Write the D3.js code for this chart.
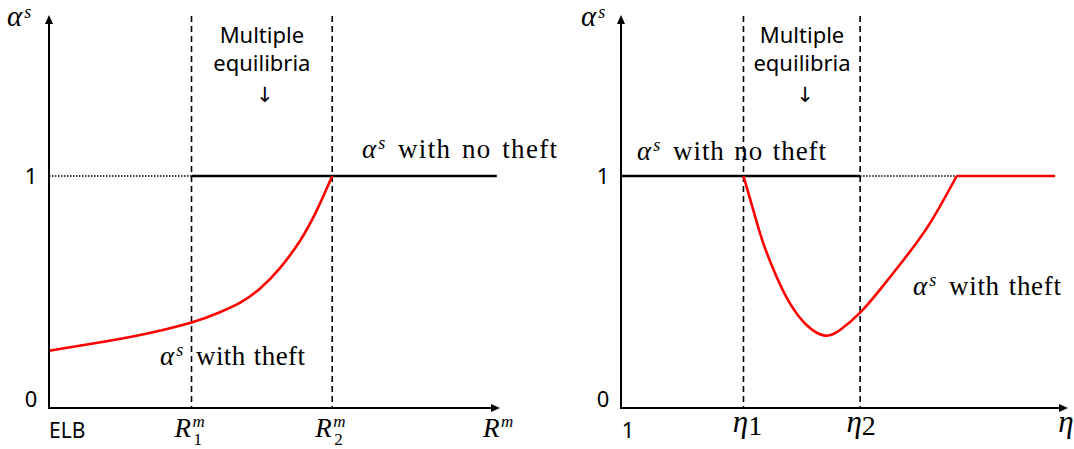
<!DOCTYPE html>
<html>
<head>
<meta charset="utf-8">
<script src="https://cdn.jsdelivr.net/npm/d3@7"></script>
</head>
<body style="margin:0">
<svg id="s" width="1074" height="449"></svg>
<script>
// ---- Left panel: alpha^s against the money rate R^m ----
const leftThresholds = [31.6, 62.8];            // R1^m, R2^m
const leftTheftX = [0, 9.1, 20.2, 31.6, 37.9, 42.4, 46.8, 51.2, 55.7, 59.4, 62.8];
const leftTheftY = [0.247, 0.276, 0.315, 0.369, 0.413, 0.454, 0.515, 0.603, 0.722, 0.853, 1.0];
const leftNoTheftX = [31.6, 99.3];              // solid segment of alpha^s = 1
const leftDottedX = [0, 31.6];                  // dotted reference at alpha^s = 1

// ---- Right panel: alpha^s against eta ----
const rightThresholds = [27.4, 53.5];           // eta1, eta2
const rightTheftX = [27.4, 29.6, 31.8, 34.8, 37.8, 41.5, 45.6, 49.0, 53.5, 57.9, 63.2, 69.1, 75.1];
const rightTheftY = [1.0, 0.853, 0.712, 0.566, 0.451, 0.358, 0.312, 0.336, 0.411, 0.509, 0.638, 0.796, 1.0];
const rightTheftFlatX = [75.1, 97.1];
const rightNoTheftX = [0, 53.5];
const rightDottedX = [53.5, 75.1];

const yTickLabels = ["0", "1"];
const yTickValues = [0, 1];

const SANS = "Noto Sans";
const SERIF = "Liberation Serif";
const RED = "#ff0000";

const svg = d3.select("#s");

const yScale = d3.scaleLinear().domain([0, 1]).range([408, 176]);
const xLeft = d3.scaleLinear().domain([0, 100]).range([49, 500]);
const xRight = d3.scaleLinear().domain([0, 100]).range([621, 1068]);

function fam(sel, family) {
  return sel.style("font-family", `"${family}"`);
}

function sansText(x, y, size, str, anchor) {
  return fam(svg.append("text"), SANS).attr("x", x).attr("y", y)
    .attr("font-size", size)
    .attr("text-anchor", anchor || "start").text(str);
}

function serifSpan(t, str, size, italic) {
  const s = fam(t.append("tspan"), SERIF).attr("font-size", size);
  if (italic) s.style("font-style", "italic");
  return s.text(str);
}

function drawAxes(x) {
  const x0 = x(0), x1 = x(100), y0 = yScale(0);
  svg.append("line").attr("x1", x0).attr("y1", y0 + 1).attr("x2", x0).attr("y2", 22)
    .attr("stroke", "#000").attr("stroke-width", 2);
  svg.append("path")
    .attr("d", `M${x0},15 L${x0 - 4},24 L${x0 + 4},24 Z`).attr("fill", "#000");
  svg.append("line").attr("x1", x0 - 1).attr("y1", y0).attr("x2", x1 - 6).attr("y2", y0)
    .attr("stroke", "#000").attr("stroke-width", 2);
  svg.append("path")
    .attr("d", `M${x1},${y0} L${x1 - 9},${y0 - 4} L${x1 - 9},${y0 + 4} Z`).attr("fill", "#000");
}

function drawYLabels(xPos) {
  yTickValues.forEach((v, i) => {
    sansText(xPos, v === 1 ? yScale(v) + 8 : yScale(v) - 1, 22, yTickLabels[i], "middle");
  });
}

function drawVLines(x, thresholds) {
  thresholds.forEach(t => {
    svg.append("line").attr("x1", x(t)).attr("x2", x(t)).attr("y1", 16).attr("y2", yScale(0))
      .attr("stroke", "#000").attr("stroke-width", 1.6).attr("stroke-dasharray", "6,4");
  });
}

function hline(x, xs, color, width, dash) {
  const l = svg.append("line")
    .attr("x1", x(xs[0])).attr("x2", x(xs[1]))
    .attr("y1", yScale(1)).attr("y2", yScale(1))
    .attr("stroke", color).attr("stroke-width", width);
  if (dash) l.attr("stroke-dasharray", dash);
}

function curve(x, xs, ys) {
  const line = d3.line().x(d => x(d[0])).y(d => yScale(d[1])).curve(d3.curveNatural);
  svg.append("path").attr("d", line(xs.map((v, i) => [v, ys[i]])))
    .attr("fill", "none").attr("stroke", RED).attr("stroke-width", 2.6)
    .attr("stroke-linejoin", "round");
}

// alpha^s, optionally followed by a phrase stretched over a given width
function alphaLabel(x, y, size, phrase, phraseWidth) {
  const t = fam(svg.append("text"), SERIF).attr("x", x).attr("y", y)
    .attr("font-size", size);
  serifSpan(t, "α", size, true);
  const supSize = phrase ? Math.round(size * 0.68) : 18;
  const lift = phrase ? Math.round(size * 0.33) : 8;
  serifSpan(t, "s", supSize, true).attr("dy", -lift).attr("dx", 2);
  if (phrase) {
    const p = serifSpan(t, phrase, size, false).attr("x", x + 36).attr("dy", lift);
    const natural = p.node().getComputedTextLength();
    const n = phrase.length, spaces = (phrase.match(/ /g) || []).length;
    const ls = (phraseWidth - natural) / (n - 1 + 2 * spaces);
    p.attr("letter-spacing", ls).attr("word-spacing", 2 * ls);
  }
  return t;
}

function multipleLabel(cx) {
  sansText(cx, 43, 22, "Multiple", "middle");
  sansText(cx, 71, 22, "equilibria", "middle");
  fam(svg.append("text"), "DejaVu Sans").attr("x", cx + 3).attr("y", 102)
    .attr("text-anchor", "middle").attr("font-size", 21).text("↓");
}

// R with stacked superscript m and optional subscript
function rLabel(cx, sub) {
  const t = fam(svg.append("text"), SERIF)
    .attr("x", cx - 17).attr("y", 437).attr("font-size", 27);
  serifSpan(t, "R", 27, true);
  serifSpan(t, "m", 17, true).attr("x", cx + 1).attr("dy", -10);
  if (sub) serifSpan(t, sub, 17, false).attr("x", cx + 2).attr("dy", 18);
}

function etaLabel(cx, sub) {
  const t = fam(svg.append("text"), SERIF).attr("font-size", 31)
    .attr("y", 432).attr("text-anchor", "middle").attr("x", cx);
  serifSpan(t, "η", 31, true);
  if (sub) serifSpan(t, sub, 28, false).attr("dy", 3);
}

// ---------------- Left panel ----------------
drawVLines(xLeft, leftThresholds);
hline(xLeft, leftDottedX, "#000", 1.6, "1.5,1.5");
hline(xLeft, leftNoTheftX, "#000", 2.6);
curve(xLeft, leftTheftX, leftTheftY);
drawAxes(xLeft);
drawYLabels(31);
alphaLabel(7, 26, 29);
multipleLabel(xLeft(47.2));
alphaLabel(362, 158, 27, "with no theft", 159);
alphaLabel(160, 365, 27, "with theft", 109);
sansText(49, 438, 21, "ELB");
rLabel(xLeft(leftThresholds[0]), "1");
rLabel(xLeft(leftThresholds[1]), "2");
rLabel(500, null);

// ---------------- Right panel ----------------
drawVLines(xRight, rightThresholds);
hline(xRight, rightDottedX, "#000", 1.6, "1.5,1.5");
hline(xRight, rightNoTheftX, "#000", 2.6);
curve(xRight, rightTheftX, rightTheftY);
hline(xRight, rightTheftFlatX, RED, 2.6);
drawAxes(xRight);
drawYLabels(603);
alphaLabel(581, 26, 29);
multipleLabel(xRight(40.5));
alphaLabel(637, 160, 27, "with no theft", 153);
alphaLabel(913, 295, 27, "with theft", 112);
sansText(628, 438, 22, "1", "middle");
etaLabel(xRight(rightThresholds[0]) + 4, "1");
etaLabel(xRight(rightThresholds[1]) + 1, "2");
etaLabel(1066, null);
</script>
</body>
</html>
